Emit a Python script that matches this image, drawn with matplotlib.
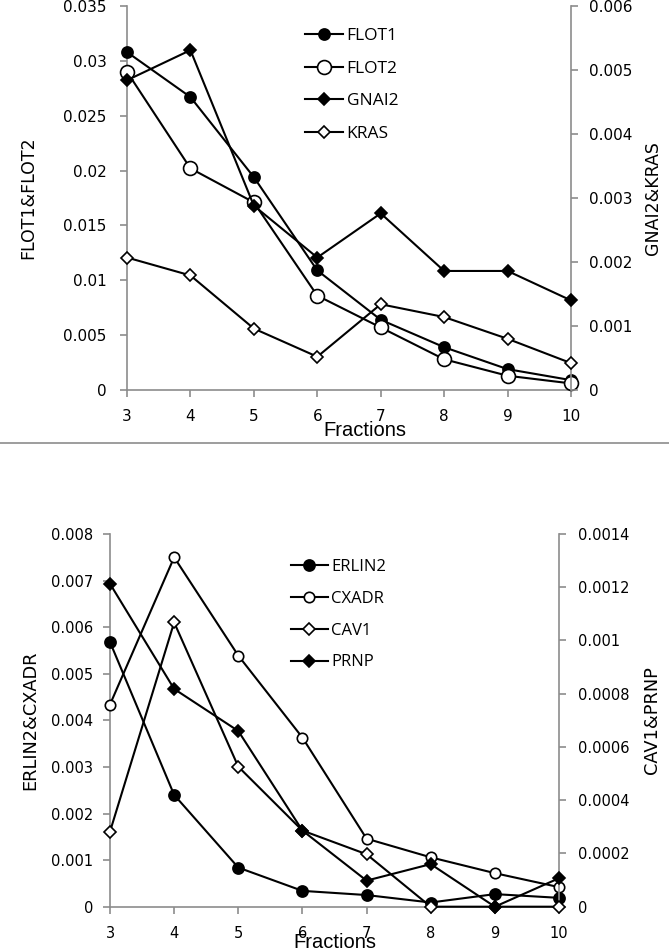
import matplotlib
matplotlib.use("Agg")
import matplotlib.pyplot as plt
from matplotlib.lines import Line2D

plt.rcParams['font.family'] = ['DejaVu Sans']

fractions = [3, 4, 5, 6, 7, 8, 9, 10]

# Top chart
flot1 = [0.0308, 0.0267, 0.0194, 0.0109, 0.0064, 0.0039, 0.0019, 0.0009]
flot2 = [0.0290, 0.0202, 0.0171, 0.0086, 0.0057, 0.0028, 0.0013, 0.0006]
gnai2 = [0.00484, 0.00531, 0.00288, 0.00207, 0.00276, 0.00186, 0.00186, 0.00140]
kras = [0.00207, 0.00179, 0.00096, 0.00052, 0.00134, 0.00114, 0.00080, 0.00042]

# Bottom chart
erlin2 = [0.00568, 0.00240, 0.00084, 0.00034, 0.00025, 0.00009, 0.00027, 0.00019]
cxadr = [0.00434, 0.00750, 0.00539, 0.00363, 0.00146, 0.00106, 0.00072, 0.00042]
cav1 = [0.000282, 0.001068, 0.000526, 0.000286, 0.000197, 0.0, 0.0, 0.0]
prnp = [0.001213, 0.000818, 0.000660, 0.000286, 0.000098, 0.000160, 0.0, 0.000107]

top_left_ticks = [0, 0.005, 0.01, 0.015, 0.02, 0.025, 0.03, 0.035]
top_left_labels = ['0', '0.005', '0.01', '0.015', '0.02', '0.025', '0.03', '0.035']
top_right_ticks = [0, 0.001, 0.002, 0.003, 0.004, 0.005, 0.006]
top_right_labels = ['0', '0.001', '0.002', '0.003', '0.004', '0.005', '0.006']
bot_left_ticks = [0, 0.001, 0.002, 0.003, 0.004, 0.005, 0.006, 0.007, 0.008]
bot_left_labels = ['0', '0.001', '0.002', '0.003', '0.004', '0.005', '0.006', '0.007', '0.008']
bot_right_ticks = [0, 0.0002, 0.0004, 0.0006, 0.0008, 0.001, 0.0012, 0.0014]
bot_right_labels = ['0', '0.0002', '0.0004', '0.0006', '0.0008', '0.001', '0.0012', '0.0014']

W, H = 669, 952
fig = plt.figure(figsize=(W / 100, H / 100), dpi=100)

GREY = '#8c8c8c'
LEGFONT = ['Open Sans', 'DejaVu Sans']


def make_panel(rect, lt, ll, rt, rl, llab, rlab, series_l, series_r,
               leg_anchor, leg_fs, xlabel_xy, tick_fs, lab_fs,
               lpad, rpad, llabpad, rlabpad):
    ax = fig.add_axes(rect)
    ax2 = ax.twinx()
    ax.set_xlim(3, 10)
    ax.set_ylim(lt[0], lt[-1])
    ax2.set_ylim(rt[0], rt[-1])
    for s in ['top', 'right']:
        ax.spines[s].set_visible(False)
    for s in ['left', 'bottom']:
        ax.spines[s].set_color(GREY)
        ax.spines[s].set_linewidth(1.2)
    for s in ['top', 'left', 'bottom']:
        ax2.spines[s].set_visible(False)
    ax2.spines['right'].set_color(GREY)
    ax2.spines['right'].set_linewidth(1.2)
    ax.set_xticks(fractions)
    ax.set_xticklabels([str(f) for f in fractions], fontsize=tick_fs)
    ax.set_yticks(lt)
    ax.set_yticklabels(ll, fontsize=tick_fs)
    ax2.set_yticks(rt)
    ax2.set_yticklabels(rl, fontsize=tick_fs)
    ax.tick_params(axis='both', direction='out', length=5, width=1.2, color=GREY)
    ax.tick_params(axis='y', pad=lpad)
    ax.tick_params(axis='x', pad=9)
    ax2.tick_params(axis='y', direction='out', length=5, width=1.2, color=GREY, pad=rpad)
    ax.set_ylabel(llab, fontsize=lab_fs, labelpad=llabpad)
    ax2.set_ylabel(rlab, fontsize=lab_fs, labelpad=rlabpad)
    handles = []
    for (vals, lab, mk, ms, fc) in series_l:
        h, = ax.plot(fractions, vals, color='black', lw=1.5, marker=mk, ms=ms,
                     mfc=fc, mec='black', mew=1.2, label=lab, clip_on=False, zorder=3)
        handles.append(h)
    for (vals, lab, mk, ms, fc) in series_r:
        h, = ax2.plot(fractions, vals, color='black', lw=1.5, marker=mk, ms=ms,
                      mfc=fc, mec='black', mew=1.2, label=lab, clip_on=False, zorder=3)
        handles.append(h)
    fig.legend(handles=handles, loc='upper left', bbox_to_anchor=leg_anchor,
               frameon=False, prop={'family': LEGFONT, 'size': leg_fs},
               handlelength=2.2, handletextpad=0.2,
               labelspacing=0.95, borderpad=0, borderaxespad=0)
    fig.text(xlabel_xy[0], xlabel_xy[1], 'Fractions',
             family=['Liberation Sans', 'DejaVu Sans'], fontsize=14.5,
             ha='center', va='center')
    return ax, ax2


make_panel([127 / W, 1 - 390 / H, (571 - 127) / W, (390 - 6) / H],
           top_left_ticks, top_left_labels, top_right_ticks, top_right_labels,
           'FLOT1&FLOT2', 'GNAI2&KRAS',
           [(flot1, 'FLOT1', 'o', 8, 'black'), (flot2, 'FLOT2', 'o', 10, 'white')],
           [(gnai2, 'GNAI2', 'D', 6, 'black'), (kras, 'KRAS', 'D', 6, 'white')],
           (305 / W, 1 - 28 / H), 12.5, (365 / W, 1 - 430 / H), 11, 12.5,
           9.5, 8, 19, 8)

make_panel([110 / W, 1 - 906.7 / H, (559 - 110) / W, (906.7 - 534) / H],
           bot_left_ticks, bot_left_labels, bot_right_ticks, bot_right_labels,
           'ERLIN2&CXADR', 'CAV1&PRNP',
           [(erlin2, 'ERLIN2', 'o', 8, 'black'), (cxadr, 'CXADR', 'o', 7.5, 'white')],
           [(cav1, 'CAV1', 'D', 6, 'white'), (prnp, 'PRNP', 'D', 6, 'black')],
           (291 / W, 1 - 559 / H), 12, (335 / W, 1 - 943 / H), 10.5, 12.8,
           7, 8.5, 8.5, 10)

fig.add_artist(Line2D([0, 1], [1 - 443 / H, 1 - 443 / H], color=GREY, lw=1.2,
                      transform=fig.transFigure))

fig.savefig('out.png', dpi=100)
